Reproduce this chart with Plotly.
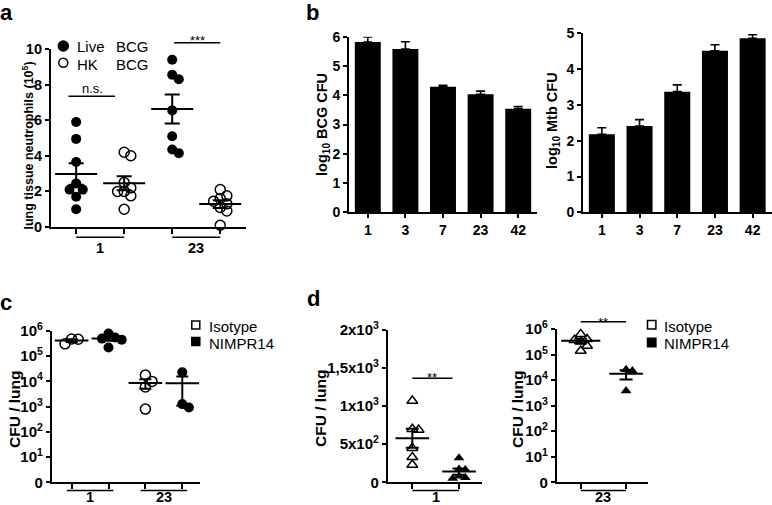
import numpy as np
import plotly.graph_objects as go

W, H = 772, 505
FONT = "Liberation Sans, Arial, Helvetica, sans-serif"

# ---------------- data ----------------
# panel a: lung tissue neutrophils (x10^5)
a_days = ["1", "23"]
a_live_day1 = [5.9, 4.95, 3.65, 2.45, 2.1, 2.1, 1.7, 1.0]
a_hk_day1 = [4.2, 4.0, 2.5, 2.2, 2.0, 2.0, 1.75, 1.0]
a_live_day23 = [9.4, 8.55, 8.3, 6.55, 5.1, 4.35, 4.15]
a_hk_day23 = [2.1, 1.75, 1.6, 1.45, 1.3, 1.1, 0.9, 0.1]

# panel b: log10 CFU (mean, SEM)
b_days = ["1", "3", "7", "23", "42"]
b_bcg_mean = [5.82, 5.58, 4.29, 4.03, 3.54]
b_bcg_sem = [0.17, 0.25, 0.05, 0.11, 0.07]
b_mtb_mean = [2.18, 2.41, 3.37, 4.51, 4.86]
b_mtb_sem = [0.18, 0.18, 0.19, 0.17, 0.10]

# panel c: CFU / lung
c_days = ["1", "23"]
c_iso_day1 = [4.8e5, 4.7e5, 3.1e5]
c_nim_day1 = [8.0e5, 5.5e5, 5.0e5, 4.5e5, 2.2e5]
c_iso_day23 = [1.8e4, 1.0e4, 6.0e3, 8.0e2]
c_nim_day23 = [2.3e4, 1.26e3, 9.3e2]

# panel d: CFU / lung
d_iso_day1 = [1070, 690, 700, 450, 330, 230]
d_nim_day1 = [320, 170, 165, 80, 60, 50]
d_iso_day23 = [6.3e5, 4.0e5, 3.7e5, 3.2e5, 2.2e5, 1.4e5]
d_nim_day23 = [2.6e4, 2.3e4, 3.8e3]

log_ticktext = ["0", "10<sup>1</sup>", "10<sup>2</sup>", "10<sup>3</sup>",
                "10<sup>4</sup>", "10<sup>5</sup>", "10<sup>6</sup>"]
log_tickvals = [1, 10, 100, 1e3, 1e4, 1e5, 1e6]
d1_tickvals = [0, 500, 1000, 1500, 2000]
d1_ticktext = ["0", "5x10<sup>2</sup>", "1x10<sup>3</sup>", "1,5x10<sup>3</sup>", "2x10<sup>3</sup>"]

# ---------------- geometry helpers ----------------
def px(x):
    return x / W


def py(y):
    return 1 - y / H


P = {
    'a': dict(n='', xpx=(50.7, 245.7), ypx=(49, 227), xrange=(-0.53, 3.53), yrange=(0, 10), ylog=False),
    'b1': dict(n='2', xpx=(349, 537), ypx=(36.7, 212.3), xrange=(-0.5, 4.5), yrange=(0, 6), ylog=False),
    'b2': dict(n='3', xpx=(583, 771.5), ypx=(33.3, 212.3), xrange=(-0.5, 4.5), yrange=(0, 5), ylog=False),
    'c': dict(n='4', xpx=(51.7, 200), ypx=(331, 482.3), xrange=(-0.54, 3.48), yrange=(0, 6), ylog=True),
    'd1': dict(n='5', xpx=(387.7, 481.7), ypx=(330, 482.3), xrange=(-0.527, 1.486), yrange=(0, 2000), ylog=False),
    'd2': dict(n='6', xpx=(556.7, 648.3), ypx=(329, 482.3), xrange=(-0.53, 1.49), yrange=(0, 6), ylog=True),
}


def ypix(v, p):
    lo, hi = p['yrange']
    vv = np.log10(v) if p['ylog'] else v
    top, bot = p['ypx']
    return bot - (vv - lo) / (hi - lo) * (bot - top)


def swarm(vals, p, diam, frac=0.6):
    xppu = (p['xpx'][1] - p['xpx'][0]) / (p['xrange'][1] - p['xrange'][0])
    order = np.argsort(-np.asarray(vals, dtype=float), kind='stable')
    step = frac * diam
    cands = [0.0]
    for k in range(1, 12):
        cands += [k * step, -k * step]
    placed = []
    offs = np.zeros(len(vals))
    for i in order:
        yp = ypix(vals[i], p)
        chosen = cands[-1]
        for c in cands:
            if all((c - a) ** 2 + (yp - b) ** 2 >= (frac * diam) ** 2 - 1e-6 for a, b in placed):
                chosen = c
                break
        placed.append((chosen, yp))
        offs[i] = chosen / xppu
    return offs


fig = go.Figure()


def add_group(p, vals, xpos, symbol, filled, size, mean_size, cap):
    vals = np.asarray(vals, dtype=float)
    offs = swarm(vals, p, size + 1)
    xa, ya = 'x' + p['n'], 'y' + p['n']
    if filled:
        mk = dict(symbol=symbol, size=size, color='black', line=dict(width=0))
    else:
        mk = dict(symbol=symbol + '-open', size=size, color='black', line=dict(width=1.5, color='black'))
    fig.add_trace(go.Scatter(x=xpos + offs, y=vals, mode='markers', xaxis=xa, yaxis=ya,
                             marker=mk, showlegend=False, cliponaxis=False, hoverinfo='y'))
    m = vals.mean()
    s = vals.std(ddof=1) / np.sqrt(len(vals))
    fig.add_trace(go.Scatter(x=[xpos], y=[m], mode='markers', xaxis=xa, yaxis=ya,
                             marker=dict(symbol='line-ew', size=mean_size, color='black',
                                         line=dict(width=2, color='black')),
                             error_y=dict(type='data', array=[s], width=cap, thickness=2, color='black'),
                             showlegend=False, cliponaxis=False, hoverinfo='y'))


# panel a
add_group(P['a'], a_live_day1, 0, 'circle', True, 10, 30, 7.5)
add_group(P['a'], a_hk_day1, 1, 'circle', False, 10, 30, 7.5)
add_group(P['a'], a_live_day23, 2, 'circle', True, 10, 30, 7.5)
add_group(P['a'], a_hk_day23, 3, 'circle', False, 10, 30, 7.5)

# panel b bars
for key, mean, sem in (('b1', b_bcg_mean, b_bcg_sem), ('b2', b_mtb_mean, b_mtb_sem)):
    p = P[key]
    fig.add_trace(go.Bar(x=b_days, y=mean, xaxis='x' + p['n'], yaxis='y' + p['n'],
                         marker=dict(color='black', line=dict(width=0)),
                         error_y=dict(type='data', symmetric=False, array=sem, arrayminus=[0] * len(sem),
                                      width=4.5, thickness=1.6, color='black'),
                         showlegend=False))

# panel c
add_group(P['c'], c_iso_day1, 0, 'circle', False, 10, 24, 6)
add_group(P['c'], c_nim_day1, 1, 'circle', True, 10, 24, 6)
add_group(P['c'], c_iso_day23, 2, 'circle', False, 10, 24, 6)
add_group(P['c'], c_nim_day23, 3, 'circle', True, 10, 24, 6)

# panel d
add_group(P['d1'], d_iso_day1, 0, 'triangle-up', False, 9.5, 24, 6.5)
add_group(P['d1'], d_nim_day1, 1, 'triangle-up', True, 9.5, 24, 6.5)
add_group(P['d2'], d_iso_day23, 0, 'triangle-up', False, 9.5, 28, 6.5)
add_group(P['d2'], d_nim_day23, 1, 'triangle-up', True, 9.5, 24, 6.5)

# ---------------- axes ----------------
base = dict(showline=True, linecolor='black', linewidth=1.6, ticks='outside', tickwidth=1.6,
            tickcolor='black', showgrid=False, zeroline=False, fixedrange=True, automargin=False)
layout_axes = {}
for key, p in P.items():
    n = p['n']
    xd = [px(p['xpx'][0]), px(p['xpx'][1])]
    yd = [py(p['ypx'][1]), py(p['ypx'][0])]
    xa = dict(base, domain=xd, anchor='y' + n, range=list(p['xrange']), ticklen=5,
              tickfont=dict(family=FONT, size=14, color='black', weight='bold'))
    ya = dict(base, domain=yd, anchor='x' + n, ticklen=4,
              tickfont=dict(family=FONT, size=14.5, color='black', weight='bold'))
    if key in ('b1', 'b2'):
        xa.update(type='category', ticklen=4)
        ya.update(range=list(p['yrange']), dtick=1, ticklen=4,
                  tickfont=dict(family=FONT, size=14, color='black', weight='bold'))
    else:
        ncol = 4 if key in ('a', 'c') else 2
        xa.update(tickvals=list(range(ncol)), showticklabels=False)
        if p['ylog']:
            ya.update(type='log', range=list(p['yrange']), tickvals=log_tickvals, ticktext=log_ticktext,
                      tickfont=dict(family=FONT, size=15, color='black', weight='bold'))
        elif key == 'd1':
            ya.update(range=list(p['yrange']), tickvals=d1_tickvals, ticktext=d1_ticktext,
                      tickfont=dict(family=FONT, size=15, color='black', weight='bold'))
        else:
            ya.update(range=list(p['yrange']), dtick=2)
    layout_axes['xaxis' + n] = xa
    layout_axes['yaxis' + n] = ya

shapes = []
annotations = []


def ann(text, x, y, size, bold=False, xanchor='center', yanchor='middle', xref='paper', yref='paper', angle=0):
    annotations.append(dict(text=text, x=x, y=y, xref=xref, yref=yref, xanchor=xanchor, yanchor=yanchor,
                            showarrow=False, textangle=angle,
                            font=dict(family=FONT, size=size, color='black', weight='bold' if bold else 'normal')))


def hline(xref, x0, x1, ypx_, width=1.6):
    shapes.append(dict(type='line', xref=xref, yref='paper', x0=x0, x1=x1, y0=py(ypx_), y1=py(ypx_),
                       line=dict(color='black', width=width)))


# panel letters
ann('a', px(6.5), py(12), 22, True)
ann('b', px(312), py(12.5), 22, True)
ann('c', px(5.5), py(302), 22, True)
ann('d', px(313), py(298), 22, True)

# axis titles
ann('lung tissue neutrophils (10<sup>5</sup>)', px(27.5), py(146), 12.5, True, angle=-90)
ann('log<sub>10</sub> BCG CFU', px(323), py(125), 14.5, True, angle=-90)
ann('log<sub>10</sub> Mtb CFU', px(553), py(121), 14.5, True, angle=-90)
ann('CFU / lung', px(14), py(409), 15.5, True, angle=-90)
ann('CFU / lung', px(320), py(408), 15.5, True, angle=-90)
ann('CFU / lung', px(517), py(409), 15.5, True, angle=-90)

# group underlines and labels
for g, (x0, x1) in enumerate([(0, 1), (2, 3)]):
    hline('x', x0, x1, 237.3)
    ann(a_days[g], (x0 + x1) / 2, py(247.5), 14.5, True, xref='x')
for g, (x0, x1) in enumerate([(-0.13, 1.13), (1.87, 3.13)]):
    hline('x4', x0, x1, 490.5)
    ann(c_days[g], (x0 + x1) / 2, py(497), 14.5, True, xref='x4')
hline('x5', 0, 1, 490.5)
ann(c_days[0], 0.5, py(497), 14.5, True, xref='x5')
hline('x6', 0, 1, 490.5)
ann(c_days[1], 0.5, py(497), 14.5, True, xref='x6')

# significance
hline('x', -0.16, 0.81, 96.3, 1.4)
ann('n.s.', 0.33, py(89), 13, xref='x')
hline('x', 2.04, 3.0, 42.7, 1.4)
ann('***', 2.52, py(41), 13, xref='x')
hline('x5', 0.0, 0.86, 378.3, 1.4)
ann('**', 0.43, py(377), 13, xref='x5')
hline('x6', 0.0, 1.0, 321.7, 1.4)
ann('**', 0.5, py(322), 13, xref='x6')


# legends
def circ(cx, cy, r, filled):
    shapes.append(dict(type='circle', xref='paper', yref='paper', x0=px(cx - r), x1=px(cx + r),
                       y0=py(cy + r), y1=py(cy - r), fillcolor='black' if filled else 'white',
                       line=dict(color='black', width=1.5)))


def sq(cx, cy, r, filled):
    shapes.append(dict(type='rect', xref='paper', yref='paper', x0=px(cx - r), x1=px(cx + r),
                       y0=py(cy + r), y1=py(cy - r), fillcolor='black' if filled else 'white',
                       line=dict(color='black', width=1.5)))


circ(63.3, 46, 5, True)
circ(63.3, 62.7, 4.5, False)
ann('Live', px(75), py(47), 15, xanchor='left')
ann('BCG', px(114), py(47), 15, xanchor='left')
ann('HK', px(75), py(64), 15, xanchor='left')
ann('BCG', px(114), py(64), 15, xanchor='left')

sq(195.8, 325, 4, False)
sq(195.8, 341.5, 4, True)
ann('Isotype', px(206.5), py(326), 15, xanchor='left')
ann('NIMPR14', px(206.5), py(343), 15, xanchor='left')
sq(651.7, 324.7, 4.2, False)
sq(651.7, 342.5, 4.2, True)
ann('Isotype', px(662), py(326), 15, xanchor='left')
ann('NIMPR14', px(662), py(343), 15, xanchor='left')

fig.update_layout(width=W, height=H, margin=dict(l=0, r=0, t=0, b=0, pad=0, autoexpand=False),
                  paper_bgcolor='white', plot_bgcolor='white', bargap=0.31,
                  showlegend=False, shapes=shapes, annotations=annotations,
                  font=dict(family=FONT, color='black'), **layout_axes)
fig.write_html("out.html", config={'displayModeBar': False},
               post_script="document.body.style.margin='0px';document.body.style.overflow='hidden';")
